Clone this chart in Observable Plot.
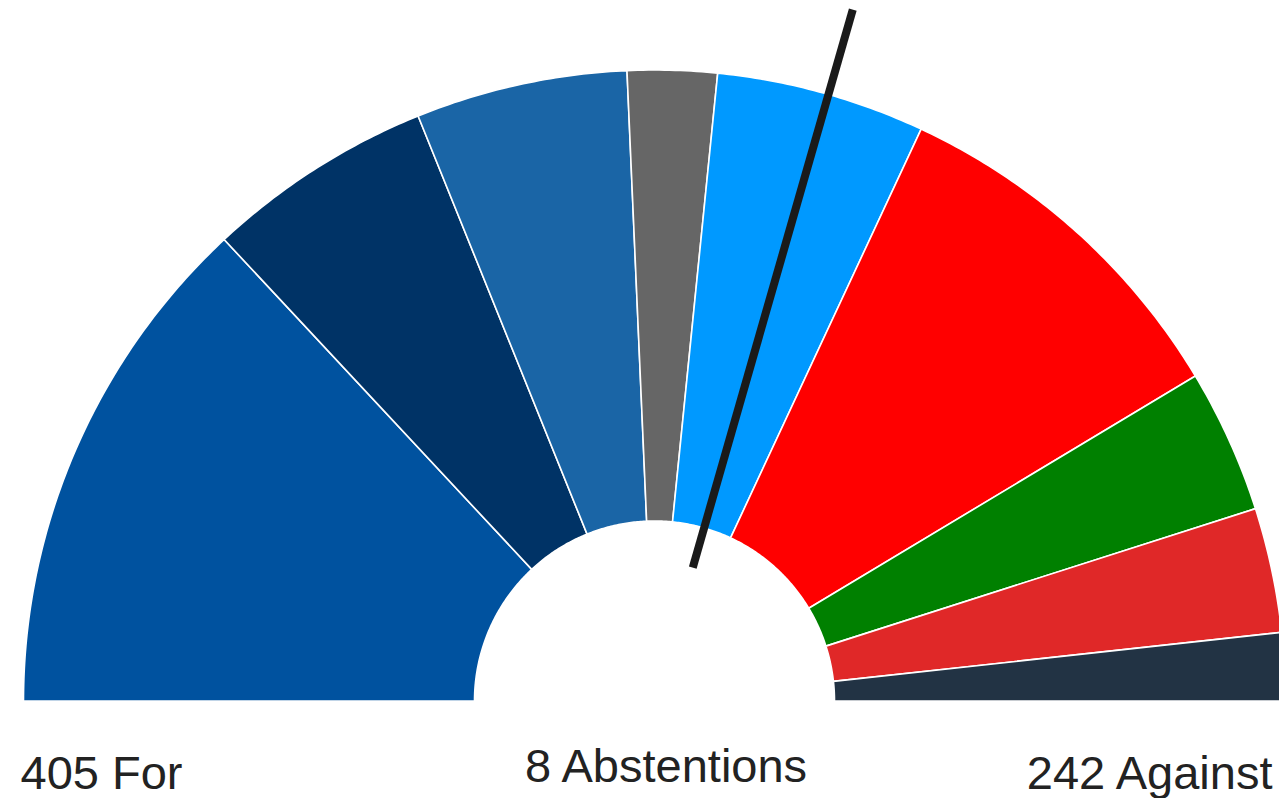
<!DOCTYPE html>
<html>
<head>
<meta charset="utf-8">
<script src="https://cdn.jsdelivr.net/npm/d3@7"></script>
<script src="https://cdn.jsdelivr.net/npm/@observablehq/plot@0.6"></script>
<style>
  html, body { margin: 0; padding: 0; background: #fff; overflow: hidden; }
  #chart svg { display: block; }
</style>
</head>
<body>
<div id="chart"></div>
<script>
// Seats per group, left to right around the hemicycle
const parties = ["EPP", "PfE", "ECR", "NI", "Renew", "S&D", "Greens/EFA", "The Left", "ESN"];
const seats   = [188, 84, 78, 33, 77, 136, 53, 46, 25];
const colors  = ["#00529f", "#003366", "#1a65a6", "#666666", "#0099ff", "#ff0000", "#008000", "#e02828", "#223344"];

// Vote result
const voteLabels = ["For", "Abstentions", "Against"];
const voteCounts = [405, 8, 242];

// Position of the marker line, in seats counted from the left
const markerSeat = 424;

const W = 1279, H = 798;
const cx = 654, cy = 700.5, R = 631;   // layout of the hemicycle in pixels
const inner = 180 / R;                  // inner radius (relative)

const total = d3.sum(seats);
const angle = s => Math.PI - Math.PI * s / total;

// Build wedge outlines from the seat counts
const pts = [];
let cum = 0;
parties.forEach((p, i) => {
  const s0 = cum, s1 = cum + seats[i];
  cum = s1;
  const a0 = angle(s0), a1 = angle(s1);
  const n = Math.max(4, Math.ceil(Math.abs(a1 - a0) / (Math.PI / 360)));
  const ring = [];
  for (let k = 0; k <= n; k++) {
    const a = a0 + (a1 - a0) * k / n;
    ring.push([Math.cos(a), Math.sin(a)]);
  }
  for (let k = n; k >= 0; k--) {
    const a = a0 + (a1 - a0) * k / n;
    ring.push([inner * Math.cos(a), inner * Math.sin(a)]);
  }
  ring.push(ring[0]);
  ring.forEach(([x, y]) => pts.push({party: p, color: colors[i], x, y}));
});

const am = angle(markerSeat);
const marker = [{x1: 0.22 * Math.cos(am), y1: 0.22 * Math.sin(am), x2: 1.14 * Math.cos(am), y2: 1.14 * Math.sin(am)}];

const labels = voteLabels.map((l, i) => `${voteCounts[i]} ${l}`);
const font = "Arial, 'Liberation Sans', Helvetica, sans-serif";

const plot = Plot.plot({
  width: W,
  height: H,
  margin: 0,
  x: {domain: [-cx / R, (W - cx) / R], range: [0, W], axis: null},
  y: {domain: [(cy - H) / R, cy / R], range: [H, 0], axis: null},
  color: {type: "identity"},
  style: {fontFamily: font, background: "#fff", overflow: "hidden"},
  marks: [
    Plot.line(pts, {x: "x", y: "y", z: "party", fill: "color", stroke: "#ffffff", strokeWidth: 1.6, strokeLinejoin: "round", curve: "linear", clip: true}),
    Plot.link(marker, {x1: "x1", y1: "y1", x2: "x2", y2: "y2", stroke: "#1a1a1a", strokeWidth: 8, strokeLinecap: "butt"}),
    Plot.text([labels[0]], {text: d => d, frameAnchor: "bottom-left", textAnchor: "start", lineAnchor: "bottom", dx: 20, dy: -10, fontSize: 47, fill: "#222"}),
    Plot.text([labels[1]], {text: d => d, frameAnchor: "bottom", textAnchor: "middle", lineAnchor: "bottom", dx: 26, dy: -17, fontSize: 47, fill: "#222"}),
    Plot.text([labels[2]], {text: d => d, frameAnchor: "bottom-right", textAnchor: "end", lineAnchor: "bottom", dx: -7, dy: -10, fontSize: 47, fill: "#222"})
  ]
});
document.getElementById("chart").append(plot);
</script>
</body>
</html>
